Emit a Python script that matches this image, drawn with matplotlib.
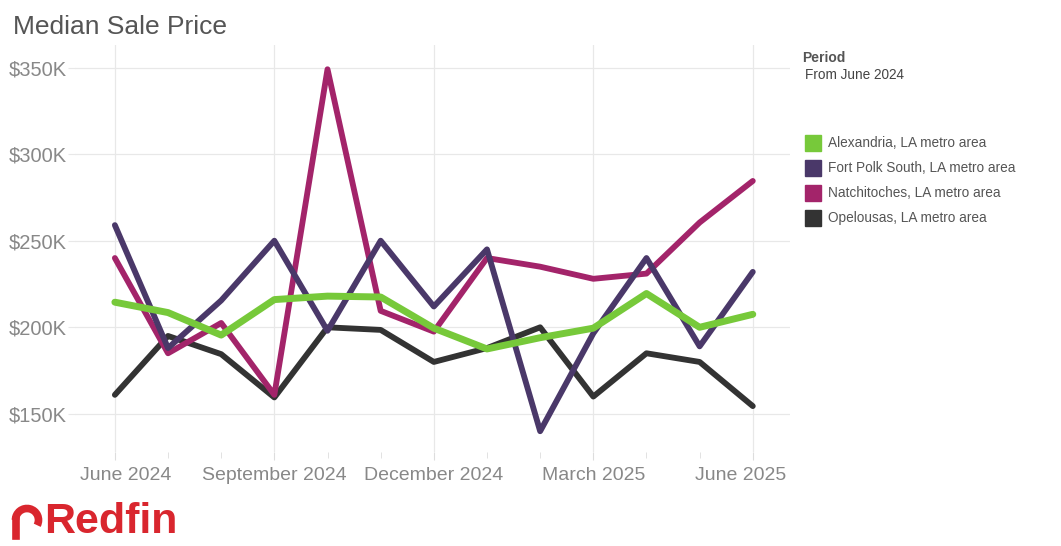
import matplotlib.pyplot as plt
from matplotlib.patches import Arc, Rectangle
from matplotlib.lines import Line2D
from matplotlib.transforms import ScaledTranslation

plt.rcParams['font.family'] = ['Liberation Sans', 'DejaVu Sans']

# Monthly median sale price (thousands of dollars), June 2024 - June 2025
months = list(range(13))
tick_pos = [0, 3, 6, 9, 12]
tick_labels = ['June 2024', 'September 2024', 'December 2024', 'March 2025', 'June 2025']

alexandria = [214.5, 208.5, 195.5, 216, 218, 217.5, 199.5, 187.5, 194, 199.5, 219.5, 200, 207.5]
fort_polk = [259, 188, 215.5, 250, 198, 250, 212, 245, 140, 196.5, 240, 189, 232]
natchitoches = [240, 185, 202.5, 161, 349, 209.5, 197.5, 240, 235, 228, 231, 260.5, 284.5]
opelousas = [161, 195, 184.5, 159.5, 200, 198.5, 180, 188, 200, 160, 185, 180, 154.5]

names = ['Alexandria, LA metro area', 'Fort Polk South, LA metro area',
         'Natchitoches, LA metro area', 'Opelousas, LA metro area']
colors = ['#77c93a', '#4a3869', '#a3246a', '#333333']

fig = plt.figure(figsize=(10.61, 5.46), dpi=100)
ax = fig.add_axes([75 / 1061, 1 - 452 / 546, 715 / 1061, 407 / 546])

# draw bottom to top so green sits over the rest
ax.plot(months, opelousas, color=colors[3], lw=4.2, solid_joinstyle='round', solid_capstyle='round', zorder=2)
ax.plot(months, natchitoches, color=colors[2], lw=4.2, solid_joinstyle='round', solid_capstyle='round', zorder=3)
ax.plot(months, fort_polk, color=colors[1], lw=4.2, solid_joinstyle='round', solid_capstyle='round', zorder=4)
ax.plot(months, alexandria, color=colors[0], lw=5, solid_joinstyle='round', solid_capstyle='round', zorder=5)

ax.set_xlim(-0.75, 12.7)
ax.set_ylim(128, 363)

ax.set_yticks([150, 200, 250, 300, 350])
ax.set_yticklabels(['$150K', '$200K', '$250K', '$300K', '$350K'])
ax.set_xticks(tick_pos)
ax.set_xticklabels(tick_labels)
ax.set_xticks(months, minor=True)

ax.grid(True, which='major', color='#e8e8e8', lw=0.9)
ax.set_axisbelow(True)
for s in ax.spines.values():
    s.set_visible(False)

ax.tick_params(axis='y', length=5, color='#e8e8e8', labelsize=14.5, labelcolor='#888888', pad=1)
ax.tick_params(axis='x', which='major', length=6, color='#dddddd', labelsize=14,
               labelcolor='#888888', pad=5)
ax.tick_params(axis='x', which='minor', length=4, color='#dddddd')

# nudge the edge labels inward like the original
labs = ax.get_xticklabels()
labs[0].set_transform(labs[0].get_transform() + ScaledTranslation(0.11, 0, fig.dpi_scale_trans))
labs[-1].set_transform(labs[-1].get_transform() + ScaledTranslation(-0.12, 0, fig.dpi_scale_trans))

fig.text(13 / 1061, 1 - 27 / 546, 'Median Sale Price', fontsize=19, color='#555555', va='center')

# legend
fig.text(802 / 1061, 1 - 58 / 546, 'Period', fontsize=10, fontweight='bold', color='#555555', va='center')
fig.text(805 / 1061, 1 - 75 / 546, 'From June 2024', fontsize=9.8, color='#444444', va='center')
for k, (nm, c) in enumerate(zip(names, colors)):
    yc = 143 + 25 * k
    fig.patches.append(Rectangle((805 / 1061, 1 - (yc + 8) / 546), 16 / 1061, 16 / 546,
                                 transform=fig.transFigure, color=c))
    fig.text(828 / 1061, 1 - yc / 546, nm, fontsize=9.8, color='#555555', va='center')

# Redfin logo
red = '#d9262e'
fig.patches.append(Arc((27 / 1061, 1 - 520 / 546), 23 / 1061, 23 / 546, theta1=-45, theta2=180,
                       transform=fig.transFigure, color=red, lw=5.5))
fig.lines.append(Line2D([15.5 / 1061, 15.5 / 1061], [1 - 520 / 546, 1 - 536 / 546],
                        transform=fig.transFigure, color=red, lw=5.5))
fig.text(44 / 1061, 1 - 522 / 546, 'Redfin', fontsize=31, fontweight='bold', color=red, va='center')

fig.savefig('out.png', dpi=100)
